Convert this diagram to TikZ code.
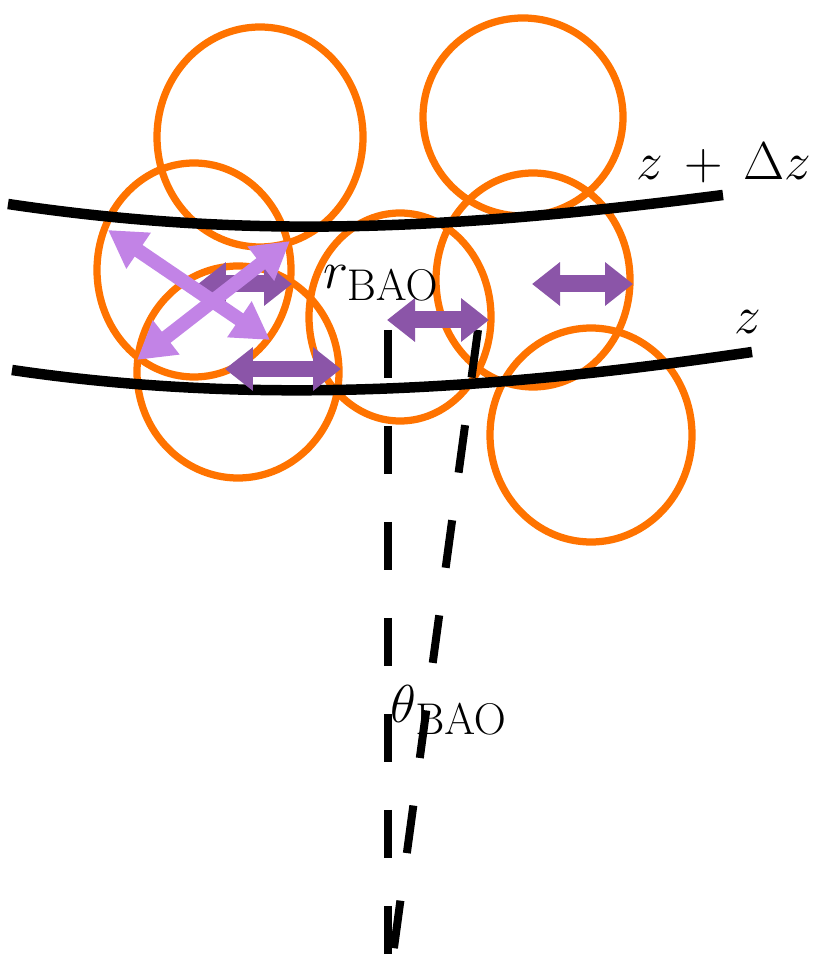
\documentclass[tikz,border=0pt]{standalone}
\usepackage{graphicx}
\usetikzlibrary{arrows.meta}
\definecolor{bubble}{RGB}{255,115,0}
\definecolor{darkarr}{RGB}{139,85,168}
\definecolor{lightarr}{RGB}{194,131,230}
\newcommand{\biglbl}[1]{\scalebox{1.22}{\Huge #1}}
\tikzset{
  bubble/.style={draw=bubble, line width=0.145cm},
  shell/.style={draw=black, line width=0.21cm},
  darkdbl/.style={draw=darkarr, line width=0.34cm, {Triangle[length=5.6mm, width=8.4mm]}-{Triangle[length=5.6mm, width=8.4mm]}},
  lightdbl/.style={draw=lightarr, line width=0.28cm, {Triangle[length=7.4mm, width=8.2mm]}-{Triangle[length=7.4mm, width=8.2mm]}},
  sightline/.style={draw=black, line width=0.16cm, dash pattern=on 0.96cm off 0.96cm},
  lbl/.style={inner sep=0pt}
}
\begin{document}
\begin{tikzpicture}[x=0.02cm, y=-0.02cm]
\useasboundingbox (0,0) rectangle (821,955);
% bubbles
\draw[bubble] (260,137) ellipse [x radius=103, y radius=110];
\draw[bubble] (523,117) ellipse [x radius=100, y radius=99];
\draw[bubble] (194,270) ellipse [x radius=97, y radius=107];
\draw[bubble] (238,372) ellipse [x radius=101, y radius=106];
\draw[bubble] (400,317) ellipse [x radius=91, y radius=104];
\draw[bubble] (533,280) ellipse [x radius=97, y radius=107];
\draw[bubble] (591,435) ellipse [x radius=101, y radius=107];
% redshift shells
\coordinate (u1) at (8,204);
\coordinate (u2) at (723,195);
\coordinate (l1) at (12,370);
\coordinate (l2) at (752,352);
\draw[shell] (u1) .. controls (250,240) and (450,230) .. (u2);
\draw[shell] (l1) .. controls (250,405) and (480,392) .. (l2);
% lines of sight
\coordinate (s1a) at (388,330);
\coordinate (s1b) at (388,955);
\coordinate (s2a) at (478,330);
\coordinate (s2b) at (393,955);
\draw[sightline] (s1a) -- (s1b);
\draw[sightline] (s2a) -- (s2b);
% dark arrows
\coordinate (d1a) at (198,284);
\coordinate (d1b) at (292,284);
\coordinate (d2a) at (225,369);
\coordinate (d2b) at (341,369);
\coordinate (d3a) at (387,320);
\coordinate (d3b) at (489,320);
\coordinate (d4a) at (532,284);
\coordinate (d4b) at (633,284);
\draw[darkdbl] (d1a) -- (d1b);
\draw[darkdbl] (d2a) -- (d2b);
\draw[darkdbl] (d3a) -- (d3b);
\draw[darkdbl] (d4a) -- (d4b);
% light arrows
\coordinate (la1) at (108,230);
\coordinate (la2) at (270,340);
\coordinate (lb1) at (137,360);
\coordinate (lb2) at (290,241);
\draw[lightdbl] (la1) -- (la2);
\draw[lightdbl] (lb1) -- (lb2);
% labels
\node[lbl] (zdz) at (724,163) {\biglbl{$z\mskip3mu+\mskip3mu\Delta z$}};
\node[lbl] (z) at (748,322) {\biglbl{$z$}};
\node[lbl] (rbao) at (381,283) {\biglbl{$r_{\mathrm{BAO}}$}};
\node[lbl] (tbao) at (449,710) {\biglbl{$\theta_{\mathrm{BAO}}$}};
\end{tikzpicture}
\end{document}
